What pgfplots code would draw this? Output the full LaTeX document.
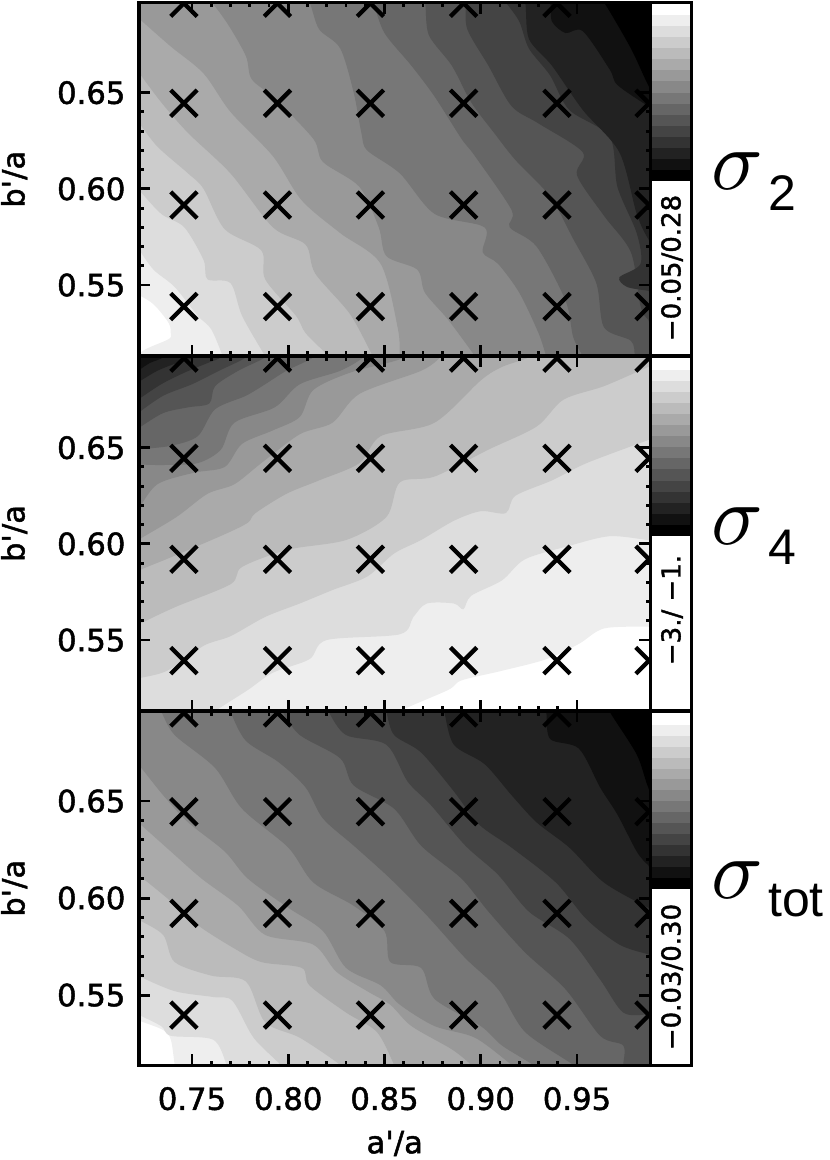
\documentclass[border=0pt]{standalone}
\usepackage{pgfplots}
\pgfplotsset{compat=1.18}
\usepackage{fontspec}
\setmainfont{DejaVu Sans}[FakeBold=1.5]
\newfontfamily\subf{Liberation Sans}

% 16 grey levels of the colour bars, white to black
\definecolor{g0}{gray}{1.000}\definecolor{g1}{gray}{0.933}\definecolor{g2}{gray}{0.867}\definecolor{g3}{gray}{0.800}
\definecolor{g4}{gray}{0.733}\definecolor{g5}{gray}{0.667}\definecolor{g6}{gray}{0.600}\definecolor{g7}{gray}{0.533}
\definecolor{g8}{gray}{0.467}\definecolor{g9}{gray}{0.400}\definecolor{g10}{gray}{0.333}\definecolor{g11}{gray}{0.267}
\definecolor{g12}{gray}{0.200}\definecolor{g13}{gray}{0.133}\definecolor{g14}{gray}{0.067}\definecolor{g15}{gray}{0.000}

\newcommand{\lev}[2]{\addplot[draw=none,fill=g#1,smooth,tension=0.5] coordinates {#2};}
\newcommand{\band}[2]{\addplot[draw=none,fill=g#1] coordinates {(0,#2)(1,#2)(1,#2+1)(0,#2+1)};}
\newcommand{\bars}{%
  \band{0}{15}\band{1}{14}\band{2}{13}\band{3}{12}\band{4}{11}\band{5}{10}\band{6}{9}\band{7}{8}
  \band{8}{7}\band{9}{6}\band{10}{5}\band{11}{4}\band{12}{3}\band{13}{2}\band{14}{1}\band{15}{0}}

\pgfplotsset{
  panel/.style={
    scale only axis, anchor=south west, width=383.63pt,
    xmin=0.72247, xmax=0.98818,
    xtick={0.75,0.80,0.85,0.90,0.95}, ytick={0.55,0.60,0.65},
    minor tick num=4, tick align=inside,
    major tick length=8.5pt, minor tick length=3.5pt,
    major tick style={black,line width=2.2pt},
    minor tick style={black,line width=2.2pt},
    axis line style={line width=2.7pt},
    axis on top, clip marker paths=true,
    tick label style={font=\fontsize{23}{24}\selectfont,inner sep=0pt,
      /pgf/number format/fixed,/pgf/number format/fixed zerofill,/pgf/number format/precision=2,
      /pgf/number format/assume math mode=true},
    xticklabel shift=16pt, yticklabel shift=10pt,
    ylabel={b\textquotesingle/a},
    ylabel style={font=\fontsize{23}{24}\selectfont,at={(axis description cs:-0.244,0.5)},anchor=center,rotate=0},
  },
  cbar/.style={
    scale only axis, anchor=south west, width=30.75pt,
    xmin=0, xmax=1, xtick=\empty, ytick=\empty,
    axis line style={line width=2.7pt}, axis on top,
  },
  crosses/.style={only marks,mark=x,mark size=14pt,mark options={black,line width=3.2pt}},
}

\begin{document}
\begin{tikzpicture}
\path[use as bounding box] (0pt,0pt) rectangle (622.5pt,870pt);

% colour bars
\begin{axis}[cbar,at={(487.88pt,603pt)},height=265.13pt,ymin=-15.82,ymax=16.14]
\bars
\end{axis}
\begin{axis}[cbar,at={(487.88pt,336.75pt)},height=266.25pt,ymin=-15.79,ymax=16.24]
\bars
\end{axis}
\begin{axis}[cbar,at={(487.88pt,70.88pt)},height=265.88pt,ymin=-16.1,ymax=16.25]
\bars
\end{axis}

% sigma_2
\begin{axis}[panel,at={(104.25pt,603pt)},height=265.13pt,ymin=0.5131,ymax=0.6969,xticklabels={}]
\lev{1}{(.718,.547)(.722,.545)(.730,.540)(.738,.530)(.739,.523)(.739,.508)(1.01,.49)(1.01,.72)(.70,.72)}
\lev{2}{(.718,.574)(.722,.569)(.730,.558)(.741,.549)(.753,.534)(.760,.527)(.766,.513)(.768,.508)(1.01,.49)(1.01,.72)(.70,.72)}
\lev{3}{(.718,.605)(.722,.600)(.734,.587)(.746,.580)(.756,.563)(.758,.553)(.770,.551)(.776,.534)(.788,.513)(.791,.508)(1.01,.49)(1.01,.72)(.70,.72)}
\lev{4}{(.718,.640)(.722,.635)(.732,.622)(.748,.608)(.756,.600)(.767,.579)(.786,.568)(.788,.553)(.804,.534)(.809,.525)(.821,.513)(.825,.508)(1.01,.49)(1.01,.72)(.70,.72)}
\lev{5}{(.718,.666)(.722,.661)(.734,.645)(.748,.629)(.770,.608)(.792,.580)(.809,.571)(.814,.556)(.832,.535)(.844,.513)(.848,.508)(1.01,.49)(1.01,.72)(.70,.72)}
\lev{6}{(.718,.693)(.722,.689)(.739,.674)(.756,.660)(.770,.640)(.792,.617)(.807,.594)(.827,.577)(.848,.561)(.857,.527)(.858,.513)(.860,.508)(1.01,.49)(1.01,.72)(.70,.72)}
\lev{7}{(.753,.700)(.760,.697)(.769,.685)(.778,.669)(.781,.657)(.793,.647)(.813,.626)(.818,.614)(.837,.601)(.847,.580)(.851,.565)(.867,.558)(.871,.546)(.883,.532)(.897,.513)(.900,.508)(1.01,.49)(1.01,.72)}
\lev{8}{(.806,.700)(.811,.697)(.816,.683)(.827,.673)(.834,.650)(.838,.629)(.841,.620)(.858,.608)(.876,.587)(.902,.580)(.901,.567)(.909,.561)(.920,.546)(.930,.525)(.934,.513)(.936,.508)(1.01,.49)(1.01,.72)}
\lev{9}{(.841,.700)(.844,.697)(.850,.681)(.864,.664)(.876,.648)(.890,.626)(.897,.617)(.916,.589)(.915,.580)(.929,.570)(.944,.542)(.948,.523)(.953,.513)(.955,.508)(1.01,.49)(1.01,.72)}
\lev{10}{(.867,.700)(.871,.697)(.873,.680)(.885,.664)(.895,.645)(.907,.629)(.918,.615)(.936,.596)(.948,.574)(.960,.551)(.964,.528)(.978,.521)(.980,.513)(.980,.508)(1.01,.49)(1.01,.72)}
\lev{11}{(.889,.700)(.892,.697)(.893,.683)(.904,.664)(.916,.643)(.930,.634)(.953,.619)(.950,.607)(.964,.586)(.978,.567)(.983,.539)(.987,.532)(.992,.529)(1.01,.72)}
\lev{12}{(.911,.700)(.913,.697)(.920,.687)(.925,.673)(.936,.659)(.946,.641)(.967,.627)(.971,.601)(.981,.577)(.983,.561)(.972,.554)(.976,.549)(.987,.547)(.992,.546)(1.01,.72)}
\lev{13}{(.918,.700)(.923,.697)(.925,.678)(.937,.664)(.953,.641)(.972,.619)(.981,.587)(.987,.574)(.992,.570)(1.01,.72)}
\lev{14}{(.932,.700)(.936,.697)(.937,.687)(.944,.681)(.953,.682)(.967,.662)(.971,.654)(.987,.643)(.992,.641)(1.01,.72)}
\lev{15}{(.960,.700)(.964,.697)(.978,.673)(.987,.654)(.992,.649)(1.01,.72)}
\addplot[crosses] coordinates {
  (.7458,.5388)(.7944,.5388)(.8427,.5388)(.8911,.5388)(.9396,.5388)(.9874,.5388)
  (.7458,.5916)(.7944,.5916)(.8427,.5916)(.8911,.5916)(.9396,.5916)(.9874,.5916)
  (.7458,.6445)(.7944,.6445)(.8427,.6445)(.8911,.6445)(.9396,.6445)(.9874,.6445)
  (.7458,.6965)(.7944,.6965)(.8427,.6965)(.8911,.6965)(.9396,.6965)(.9874,.6965)};
\end{axis}

% sigma_4
\begin{axis}[panel,at={(104.25pt,336.75pt)},height=266.25pt,ymin=0.5131,ymax=0.6977,xticklabels={}]
\lev{1}{(.855,.508)(.858,.513)(.883,.524)(.890,.529)(.911,.534)(.934,.540)(.951,.548)(.964,.556)(.987,.557)(.992,.557)(1.01,.72)(.70,.72)(.70,.49)}
\lev{2}{(.758,.508)(.762,.513)(.779,.524)(.792,.533)(.811,.540)(.820,.550)(.858,.553)(.865,.562)(.872,.569)(.886,.569)(.891,.566)(.895,.573)(.911,.581)(.923,.592)(.946,.599)(.967,.604)(.987,.602)(.992,.602)(1.01,.72)(.70,.72)(.70,.49)}
\lev{3}{(.718,.528)(.722,.530)(.737,.534)(.756,.547)(.770,.552)(.788,.562)(.806,.569)(.823,.576)(.841,.583)(.855,.595)(.869,.602)(.886,.612)(.900,.617)(.913,.616)(.918,.625)(.937,.633)(.955,.642)(.987,.654)(.992,.656)(1.01,.72)(.70,.72)}
\lev{4}{(.718,.556)(.722,.558)(.741,.567)(.770,.579)(.776,.588)(.800,.597)(.830,.602)(.851,.614)(.858,.632)(.876,.635)(.904,.649)(.929,.661)(.943,.675)(.964,.682)(.987,.692)(.992,.694)(1.01,.72)(.70,.72)}
\lev{5}{(.718,.583)(.722,.586)(.739,.593)(.767,.605)(.779,.611)(.783,.616)(.799,.626)(.816,.633)(.837,.642)(.848,.656)(.876,.663)(.900,.685)(.911,.692)(.925,.697)(.929,.702)(.70,.72)}
\lev{6}{(.718,.599)(.722,.602)(.742,.614)(.758,.626)(.772,.631)(.786,.642)(.806,.657)(.823,.663)(.837,.678)(.869,.690)(.879,.697)(.883,.702)(.70,.72)}
\lev{7}{(.718,.614)(.722,.618)(.732,.631)(.751,.637)(.767,.640)(.776,.652)(.792,.659)(.806,.666)(.813,.680)(.832,.689)(.858,.696)(.864,.702)(.70,.72)}
\lev{8}{(.718,.638)(.722,.641)(.735,.641)(.753,.642)(.765,.649)(.772,.663)(.793,.671)(.806,.683)(.827,.690)(.839,.697)(.841,.702)(.70,.72)}
\lev{9}{(.718,.647)(.722,.649)(.739,.651)(.753,.656)(.762,.670)(.778,.677)(.788,.683)(.799,.690)(.813,.697)(.814,.702)(.70,.72)}
\lev{10}{(.718,.657)(.722,.660)(.735,.668)(.748,.671)(.759,.673)(.762,.682)(.774,.690)(.788,.697)(.790,.702)(.70,.72)}
\lev{11}{(.718,.664)(.722,.668)(.735,.677)(.750,.683)(.764,.690)(.778,.697)(.779,.702)(.70,.72)}
\lev{12}{(.718,.672)(.722,.675)(.734,.683)(.746,.689)(.758,.694)(.765,.697)(.767,.702)(.70,.72)}
\lev{13}{(.718,.681)(.722,.684)(.732,.690)(.742,.694)(.751,.697)(.753,.702)(.70,.72)}
\lev{14}{(.718,.687)(.722,.690)(.728,.694)(.735,.697)(.737,.702)(.70,.72)}
\addplot[crosses] coordinates {
  (.7458,.5393)(.7944,.5393)(.8427,.5393)(.8911,.5393)(.9396,.5393)(.9874,.5393)
  (.7458,.5920)(.7944,.5920)(.8427,.5920)(.8911,.5920)(.9396,.5920)(.9874,.5920)
  (.7458,.6445)(.7944,.6445)(.8427,.6445)(.8911,.6445)(.9396,.6445)(.9874,.6445)
  (.7458,.6966)(.7944,.6966)(.8427,.6966)(.8911,.6966)(.9396,.6966)(.9874,.6966)};
\end{axis}

% sigma_tot
\begin{axis}[panel,at={(104.25pt,70.88pt)},height=265.88pt,ymin=0.5137,ymax=0.6964,
  xlabel={a\textquotesingle/a},
  xlabel style={font=\fontsize{23}{24}\selectfont,at={(axis description cs:0.5,-0.22)},anchor=center}]
\lev{1}{(.718,.539)(.722,.537)(.735,.532)(.739,.527)(.741,.514)(.742,.509)(1.01,.49)(1.01,.72)(.70,.72)}
\lev{2}{(.718,.542)(.722,.540)(.734,.534)(.739,.529)(.761,.527)(.768,.514)(.770,.509)(1.01,.49)(1.01,.72)(.70,.72)}
\lev{3}{(.718,.563)(.722,.560)(.741,.552)(.761,.549)(.771,.547)(.782,.528)(.796,.514)(.798,.509)(1.01,.49)(1.01,.72)(.70,.72)}
\lev{4}{(.718,.592)(.722,.589)(.735,.581)(.741,.567)(.760,.560)(.778,.557)(.788,.536)(.806,.528)(.827,.514)(.830,.509)(1.01,.49)(1.01,.72)(.70,.72)}
\lev{5}{(.718,.614)(.722,.612)(.737,.600)(.753,.586)(.772,.574)(.786,.567)(.807,.564)(.811,.555)(.830,.541)(.846,.531)(.855,.514)(.857,.509)(1.01,.49)(1.01,.72)(.70,.72)}
\lev{6}{(.718,.642)(.722,.639)(.739,.624)(.755,.610)(.774,.596)(.788,.581)(.813,.576)(.825,.562)(.841,.552)(.853,.545)(.864,.534)(.885,.522)(.895,.514)(.899,.509)(1.01,.49)(1.01,.72)(.70,.72)}
\lev{7}{(.718,.672)(.722,.669)(.735,.653)(.748,.639)(.767,.624)(.779,.610)(.800,.595)(.818,.583)(.830,.564)(.848,.555)(.858,.545)(.876,.534)(.897,.528)(.916,.514)(.922,.509)(1.01,.49)(1.01,.72)(.70,.72)}
\lev{8}{(.730,.701)(.734,.696)(.741,.684)(.762,.667)(.776,.646)(.800,.626)(.813,.608)(.834,.596)(.850,.583)(.853,.567)(.869,.564)(.876,.548)(.900,.534)(.911,.524)(.927,.514)(.930,.509)(1.01,.49)(1.01,.72)}
\lev{9}{(.769,.701)(.770,.696)(.778,.681)(.795,.670)(.809,.657)(.818,.641)(.834,.627)(.853,.610)(.872,.591)(.892,.569)(.909,.553)(.923,.531)(.948,.514)(.951,.509)(1.01,.49)(1.01,.72)}
\lev{10}{(.795,.701)(.797,.696)(.806,.684)(.827,.672)(.834,.658)(.855,.646)(.869,.627)(.890,.610)(.904,.593)(.923,.572)(.944,.553)(.962,.529)(.974,.524)(.974,.514)(.974,.509)(1.01,.49)(1.01,.72)}
\lev{11}{(.820,.701)(.821,.696)(.830,.684)(.851,.679)(.862,.660)(.874,.648)(.892,.627)(.909,.612)(.925,.593)(.946,.579)(.962,.558)(.974,.541)(.987,.540)(.992,.540)(1.01,.72)}
\lev{12}{(.850,.701)(.851,.696)(.855,.684)(.869,.675)(.886,.655)(.899,.638)(.916,.626)(.939,.608)(.955,.589)(.972,.576)(.987,.571)(.992,.570)(1.01,.72)}
\lev{13}{(.879,.701)(.881,.696)(.886,.679)(.902,.669)(.916,.653)(.929,.639)(.946,.626)(.964,.608)(.987,.595)(.992,.593)(1.01,.72)}
\lev{14}{(.932,.701)(.934,.696)(.936,.682)(.951,.677)(.962,.657)(.971,.643)(.981,.624)(.987,.617)(.992,.615)(1.01,.72)}
\lev{15}{(.966,.701)(.967,.696)(.981,.674)(.987,.657)(.992,.651)(1.01,.72)}
\addplot[crosses] coordinates {
  (.7458,.5397)(.7944,.5397)(.8427,.5397)(.8911,.5397)(.9396,.5397)(.9874,.5397)
  (.7458,.5921)(.7944,.5921)(.8427,.5921)(.8911,.5921)(.9396,.5921)(.9874,.5921)
  (.7458,.6445)(.7944,.6445)(.8427,.6445)(.8911,.6445)(.9396,.6445)(.9874,.6445)
  (.7458,.6954)(.7944,.6954)(.8427,.6954)(.8911,.6954)(.9396,.6954)(.9874,.6954)};
\end{axis}

% colour bar ranges
\node[rotate=90,font=\fontsize{19.5}{20}\selectfont] at (504pt,669pt) {−0.05/0.28};
\node[rotate=90,font=\fontsize{19.5}{20}\selectfont] at (504pt,412.5pt) {−3./ −1.};
\node[rotate=90,font=\fontsize{19.5}{20}\selectfont] at (504pt,137.25pt) {−0.03/0.30};

% panel names
\node[scale=6.4] at (552.75pt,741.75pt) {$\sigma$};
\node[anchor=west,inner sep=0pt,font=\subf\fontsize{37.5}{40}\selectfont] at (576pt,725.25pt) {2};
\node[scale=6.4] at (552.75pt,475.5pt) {$\sigma$};
\node[anchor=west,inner sep=0pt,font=\subf\fontsize{37.5}{40}\selectfont] at (576pt,459.75pt) {4};
\node[scale=6.4] at (552.75pt,210pt) {$\sigma$};
\node[anchor=west,inner sep=0pt,font=\subf\fontsize{37.5}{40}\selectfont] at (576pt,194.25pt) {tot};
\end{tikzpicture}
\end{document}
